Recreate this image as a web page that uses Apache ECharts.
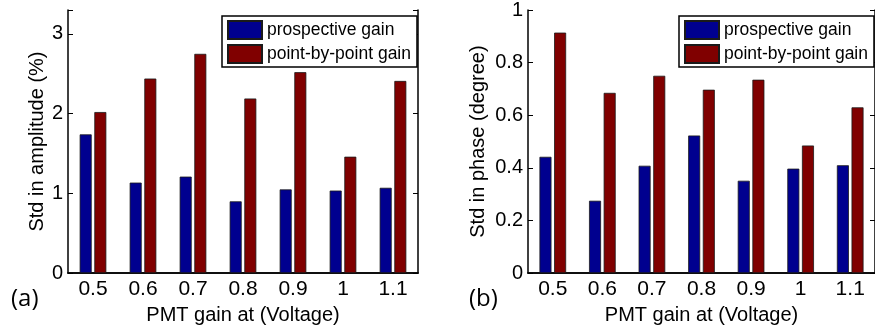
<!DOCTYPE html>
<html>
<head>
<meta charset="utf-8">
<script src="https://cdn.jsdelivr.net/npm/echarts@6/dist/echarts.min.js"></script>
<style>html,body{margin:0;padding:0;background:#fff;}#c{width:875px;height:330px;}</style>
</head>
<body>
<div id="c"></div>
<script>
// ---- data ----
const categories = ['0.5', '0.6', '0.7', '0.8', '0.9', '1', '1.1'];
const seriesNames = ['prospective gain', 'point-by-point gain'];
const ampProspective = [1.74, 1.135, 1.21, 0.90, 1.05, 1.035, 1.07];
const ampPointByPoint = [2.02, 2.44, 2.75, 2.19, 2.52, 1.46, 2.41];
const phaseProspective = [0.442, 0.275, 0.408, 0.523, 0.351, 0.397, 0.41];
const phasePointByPoint = [0.914, 0.685, 0.75, 0.697, 0.735, 0.485, 0.63];
const panelLabels = ['(a)', '(b)'];
const yTitles = ['Std in amplitude (%)', 'Std in phase (degree)'];
const xTitle = 'PMT gain at (Voltage)';

// ---- styling ----
const FONT = '"Liberation Sans", Arial, sans-serif';
const BLUE = '#00008f';
const RED = '#800000';
const lineStyle = { color: '#000', width: 1.5 };

function bottomX(gi) {
  return {
    type: 'category', gridIndex: gi, data: categories, position: 'bottom',
    axisLine: { lineStyle: lineStyle },
    axisTick: { inside: true, alignWithLabel: true, length: 4, lineStyle: { color: '#000', width: 1 } },
    axisLabel: { color: '#000', fontSize: 21, fontFamily: FONT, margin: 6 },
    name: xTitle, nameLocation: 'middle', nameGap: 27,
    nameTextStyle: { color: '#000', fontSize: 20, fontFamily: FONT }
  };
}
function topX(gi) {
  return {
    type: 'category', gridIndex: gi, data: categories, position: 'top',
    axisLine: { lineStyle: lineStyle },
    axisTick: { inside: true, alignWithLabel: true, length: 4, lineStyle: { color: '#000', width: 1 } },
    axisLabel: { show: false }
  };
}
function leftY(gi, max, interval, nameGap) {
  return {
    type: 'value', gridIndex: gi, min: 0, max: max, interval: interval, position: 'left',
    axisLine: { show: true, lineStyle: lineStyle },
    axisTick: { show: true, inside: true, length: 5, lineStyle: { color: '#000', width: 1 } },
    splitLine: { show: false },
    axisLabel: {
      color: '#000', fontSize: 20, fontFamily: FONT, margin: 5,
      formatter: function (v) {
        const k = v / interval;
        if (Math.abs(k - Math.round(k)) > 1e-6) return '';
        return String(Math.round(v * 1000) / 1000);
      }
    },
    name: yTitles[gi], nameLocation: 'middle', nameGap: nameGap,
    nameTextStyle: { color: '#000', fontSize: 20, fontFamily: FONT }
  };
}
function rightY(gi, max, interval) {
  return {
    type: 'value', gridIndex: gi, min: 0, max: max, interval: interval, position: 'right',
    axisLine: { show: true, lineStyle: lineStyle },
    axisTick: { show: true, inside: true, length: 5, lineStyle: { color: '#000', width: 1 } },
    splitLine: { show: false },
    axisLabel: { show: false }
  };
}
function bar(name, data, color, xi, yi) {
  return {
    type: 'bar', name: name, data: data, xAxisIndex: xi, yAxisIndex: yi,
    barWidth: 12, barGap: '22%',
    itemStyle: { color: color, borderColor: '#1a1a1a', borderWidth: 0.8 },
    emphasis: { disabled: true }, animation: false
  };
}
function legend(left) {
  return {
    data: seriesNames, orient: 'vertical', left: left, top: 16,
    icon: 'rect', itemWidth: 34, itemHeight: 18, itemGap: 4, itemTextGap: 3,
    padding: [4, 6, 3, 5],
    borderColor: '#000', borderWidth: 1.5, backgroundColor: '#fff',
    textStyle: { color: '#000', fontSize: 17.5, fontFamily: FONT, lineHeight: 18 },
    selectedMode: false
  };
}

const chart = echarts.init(document.getElementById('c'), null, { renderer: 'canvas' });
chart.setOption({
  animation: false,
  backgroundColor: '#fff',
  grid: [
    { left: 68, top: 10, width: 350, height: 267 },
    { left: 528, top: 10, width: 350, height: 267 }
  ],
  xAxis: [bottomX(0), bottomX(1), topX(0), topX(1)],
  yAxis: [leftY(0, 3.3, 1, 21), leftY(1, 1, 0.2, 40), rightY(0, 3.3, 1), rightY(1, 1, 0.2)],
  legend: [legend(222), legend(679)],
  series: [
    bar(seriesNames[0], ampProspective, BLUE, 0, 0),
    bar(seriesNames[1], ampPointByPoint, RED, 0, 0),
    bar(seriesNames[0], phaseProspective, BLUE, 1, 1),
    bar(seriesNames[1], phasePointByPoint, RED, 1, 1)
  ],
  graphic: [
    { type: 'text', left: 11, top: 287, style: { text: panelLabels[0], fill: '#000', fontSize: 24, fontFamily: '"Open Sans", sans-serif' } },
    { type: 'text', left: 469, top: 287, style: { text: panelLabels[1], fill: '#000', fontSize: 24, fontFamily: '"Open Sans", sans-serif' } }
  ]
});
</script>
</body>
</html>
